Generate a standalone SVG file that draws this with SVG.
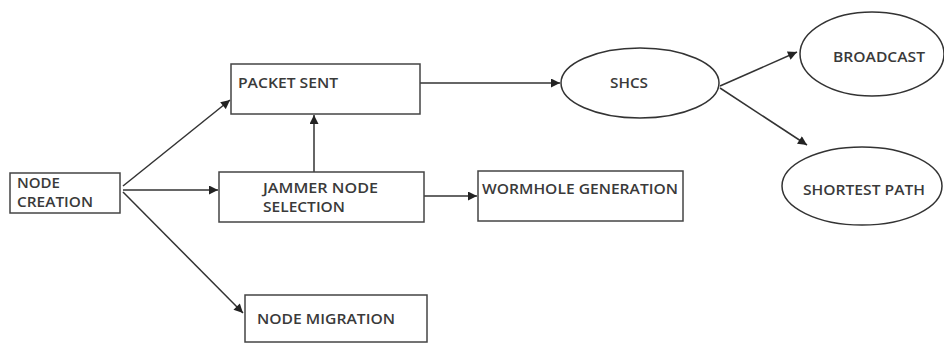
<svg xmlns="http://www.w3.org/2000/svg" width="944" height="344" viewBox="0 0 944 344">
<style>
.box{fill:#fff;stroke:#444;stroke-width:1.5}
.ell{fill:#fff;stroke:#333;stroke-width:1.5}
.lbl{font-family:"Open Sans","Liberation Sans",sans-serif;font-size:15px;font-weight:600;fill:#3a3a3a}
.con{stroke:#333;stroke-width:1.5;fill:none;marker-end:url(#ah)}
</style>
<defs>
<marker id="ah" viewBox="0 0 10 10" refX="10" refY="5" markerWidth="10" markerHeight="9" markerUnits="userSpaceOnUse" orient="auto">
<path d="M0,0 L10,5 L0,10 z" fill="#222"/>
</marker>
</defs>
<rect width="944" height="344" fill="#fff"/>
<g id="connectors">
<line class="con" x1="123" y1="186" x2="230" y2="100"/>
<line class="con" x1="123" y1="190" x2="218" y2="190"/>
<line class="con" x1="123" y1="192" x2="243" y2="313"/>
<line class="con" x1="314" y1="172" x2="314" y2="115"/>
<line class="con" x1="424" y1="196" x2="477" y2="196"/>
<line class="con" x1="420" y1="83" x2="560" y2="83"/>
<line class="con" x1="720" y1="86" x2="797" y2="52"/>
<line class="con" x1="720" y1="88" x2="807" y2="145"/>
</g>
<g id="node-creation">
<rect class="box" x="10" y="173" width="110" height="40"/>
<text class="lbl" x="17" y="188" textLength="43" lengthAdjust="spacingAndGlyphs">NODE</text>
<text class="lbl" x="17" y="207" textLength="76" lengthAdjust="spacingAndGlyphs">CREATION</text>
</g>
<g id="packet-sent">
<rect class="box" x="231" y="64" width="189" height="50"/>
<text class="lbl" x="238" y="88" textLength="100" lengthAdjust="spacingAndGlyphs">PACKET SENT</text>
</g>
<g id="jammer-node-selection">
<rect class="box" x="219" y="172" width="205" height="50"/>
<text class="lbl" x="263" y="193" textLength="115" lengthAdjust="spacingAndGlyphs">JAMMER NODE</text>
<text class="lbl" x="263" y="212" textLength="82" lengthAdjust="spacingAndGlyphs">SELECTION</text>
</g>
<g id="wormhole-generation">
<rect class="box" x="478" y="171" width="205" height="50"/>
<text class="lbl" x="482" y="194" textLength="196" lengthAdjust="spacingAndGlyphs">WORMHOLE GENERATION</text>
</g>
<g id="node-migration">
<rect class="box" x="245" y="295" width="182" height="47"/>
<text class="lbl" x="257" y="324" textLength="138" lengthAdjust="spacingAndGlyphs">NODE MIGRATION</text>
</g>
<g id="shcs">
<ellipse class="ell" cx="640" cy="83" rx="79" ry="35"/>
<text class="lbl" x="610" y="88" textLength="38" lengthAdjust="spacingAndGlyphs">SHCS</text>
</g>
<g id="broadcast">
<ellipse class="ell" cx="872" cy="54" rx="72" ry="42"/>
<text class="lbl" x="833" y="62" textLength="92" lengthAdjust="spacingAndGlyphs">BROADCAST</text>
</g>
<g id="shortest-path">
<ellipse class="ell" cx="862" cy="186" rx="80" ry="39"/>
<text class="lbl" x="803" y="195" textLength="122" lengthAdjust="spacingAndGlyphs">SHORTEST PATH</text>
</g>
</svg>
